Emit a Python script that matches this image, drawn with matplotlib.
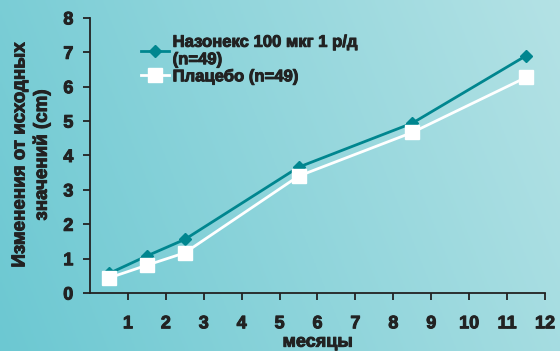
import matplotlib.pyplot as plt
import matplotlib.patheffects as pe
import numpy as np

months = [0.5, 1.5, 2.5, 5.5, 8.5, 11.5]
nasonex = [0.57, 1.08, 1.56, 3.66, 4.94, 6.9]
placebo = [0.44, 0.81, 1.17, 3.4, 4.67, 6.27]
x_ticks = list(range(1, 13))
y_ticks = list(range(0, 9))

plt.rcParams['font.family'] = ['Liberation Sans', 'DejaVu Sans']
plt.rcParams['font.weight'] = 'bold'
dark = '#222222'
# slight stroke so the bold text looks as heavy as the original
thick = [pe.withStroke(linewidth=0.7, foreground=dark)]

fig = plt.figure(figsize=(5.6, 3.51), dpi=100)

# gradient background
bg = fig.add_axes([0, 0, 1, 1], zorder=0)
gx = np.linspace(0, 1, 200)
gy = np.linspace(0, 1, 100)
GX, GY = np.meshgrid(gx, gy)
t = np.clip(0.8 * GX + 0.2 * (1 - GY), 0, 1)
c0 = np.array([108, 200, 210]) / 255
c1 = np.array([180, 226, 229]) / 255
img = c0[None, None, :] * (1 - t[..., None]) + c1[None, None, :] * t[..., None]
bg.imshow(img, aspect='auto', extent=[0, 1, 0, 1])
bg.axis('off')

ax = fig.add_axes([0.1607, 0.165, 0.8125, 0.784], zorder=1)
ax.set_facecolor('none')

teal = '#00868f'
ax.plot(months, nasonex, color=teal, lw=2, marker='D', ms=6, label='Назонекс 100 мкг 1 р/д\n(n=49)')
ax.plot(months, placebo, color='white', lw=2, marker='s', ms=10, label='Плацебо (n=49)')

ax.set_xlim(0, 12)
ax.set_ylim(0, 8)
ax.set_xticks(x_ticks)
ax.set_yticks(y_ticks)
for s in ['top', 'right']:
    ax.spines[s].set_visible(False)
for s in ['left', 'bottom']:
    ax.spines[s].set_color(dark)
    ax.spines[s].set_linewidth(1.3)
ax.tick_params(axis='both', direction='out', colors=dark, width=1.3, length=5)
ax.tick_params(axis='x', pad=11)
ax.tick_params(axis='y', pad=7)
for lab in ax.get_xticklabels() + ax.get_yticklabels():
    lab.set_fontweight('bold')
    lab.set_fontsize(13)
    lab.set_path_effects(thick)

xl = ax.set_xlabel('месяцы', fontsize=13, fontweight='bold', color=dark, labelpad=1)
yl = ax.set_ylabel('Изменения от исходных\nзначений (cm)', fontsize=13.5, fontweight='bold',
                   color=dark, labelpad=9, linespacing=1.3)
xl.set_path_effects(thick)
yl.set_path_effects(thick)

leg = ax.legend(loc='upper left', bbox_to_anchor=(0.09, 0.975), frameon=False,
                prop={'size': 12, 'weight': 'bold'}, handlelength=1.7,
                handletextpad=0.2, labelspacing=0.1, borderaxespad=0.2)
for txt in leg.get_texts():
    txt.set_color(dark)
    txt.set_path_effects(thick)

fig.savefig('out.png', dpi=100)
